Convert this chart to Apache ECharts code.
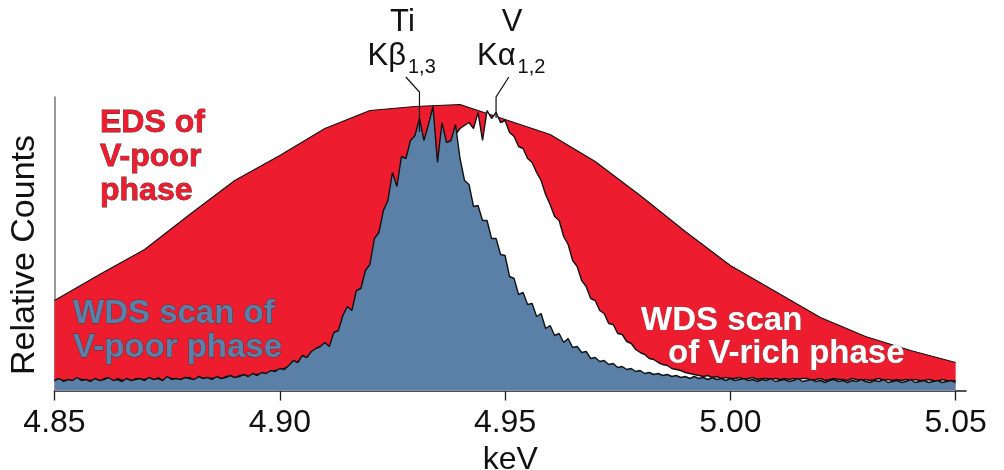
<!DOCTYPE html>
<html>
<head>
<meta charset="utf-8">
<script src="https://cdn.jsdelivr.net/npm/echarts@6/dist/echarts.min.js"></script>
<style>
  html, body { margin: 0; padding: 0; background: #ffffff; }
  #chart { width: 1004px; height: 470px; }
</style>
</head>
<body>
<div id="chart"></div>
<script>
// Energy axis tick labels (keV)
const tickValues = [4.85, 4.90, 4.95, 5.00, 5.05];

// EDS spectrum of the V-poor phase, one channel every 10 eV from 4.85 keV
const edsStart = 4.85;
const edsStep = 0.01;
const edsVPoor = [90, 116, 141, 176, 210, 235, 262, 280, 284, 286, 271,
                  256, 229, 195, 159, 125, 99, 73, 54, 40, 28];

// WDS scans, one step every 1 eV from 4.85 keV
const wdsStart = 4.85;
const wdsStep = 0.001;
const wdsVRich = [
  9, 11, 10, 10, 9, 12, 11, 10, 10, 11,
  9, 12, 12, 9, 12, 10, 11, 9, 12, 11,
  11, 12, 10, 13, 10, 13, 12, 11, 10, 12,
  13, 10, 13, 12, 12, 12, 13, 11, 14, 14,
  12, 15, 15, 13, 16, 16, 17, 16, 19, 20,
  20, 22, 24, 27, 29, 30, 30, 35, 38, 40,
  44, 44, 50, 56, 64, 76, 78, 90, 98, 110,
  120, 138, 150, 166, 180, 198, 200, 215, 222, 232,
  238, 248, 240, 248, 252, 222, 232, 240, 246, 256,
  262, 265, 268, 262, 278, 250, 280, 272, 278, 268,
  270, 258, 254, 244, 242, 232, 228, 218, 210, 196,
  186, 174, 170, 154, 146, 130, 124, 110, 104, 92,
  90, 80, 77, 67, 66, 57, 56, 49, 47, 41,
  38, 36, 32, 31, 28, 26, 25, 22, 21, 20,
  18, 17, 16, 15, 14, 15, 13, 14, 12, 13,
  12, 12, 13, 11, 12, 13, 11, 12, 12, 11,
  12, 11, 12, 11, 12, 11, 12, 12, 10, 11,
  12, 10, 11, 12, 11, 11, 10, 12, 11, 10,
  11, 10, 11, 12, 10, 11, 10, 11, 10, 11,
  10, 11, 10, 10, 11, 10, 9, 11, 10, 9, 10
];
const wdsVPoor = [
  10, 12, 9, 11, 10, 13, 10, 11, 9, 12,
  10, 11, 13, 10, 11, 9, 12, 10, 11, 12,
  10, 13, 11, 12, 10, 14, 11, 12, 11, 13,
  12, 11, 14, 12, 13, 11, 14, 12, 13, 15,
  13, 14, 16, 14, 17, 15, 18, 17, 20, 19,
  22, 21, 25, 30, 28, 35, 33, 39, 42, 44,
  48, 44, 58, 60, 75, 84, 80, 100, 102, 120,
  126, 152, 158, 180, 190, 218, 204, 234, 232, 250,
  255, 272, 250, 266, 284, 228, 268, 248, 250, 266,
  232, 210, 206, 184, 185, 170, 170, 152, 152, 136,
  135, 114, 112, 96, 98, 86, 87, 74, 77, 62,
  65, 55, 57, 48, 52, 43, 44, 38, 39, 32,
  33, 29, 30, 26, 27, 23, 24, 21, 22, 19,
  20, 17, 18, 16, 17, 15, 16, 14, 15, 13,
  14, 12, 14, 12, 13, 11, 13, 11, 12, 10,
  12, 10, 11, 12, 10, 11, 9, 11, 10, 12,
  9, 10, 11, 9, 10, 12, 9, 10, 11, 9,
  10, 8, 10, 11, 9, 10, 8, 10, 9, 11,
  9, 8, 10, 9, 11, 8, 9, 10, 8, 9,
  11, 8, 9, 10, 8, 9, 10, 8, 9, 10, 8
];

// Emission line markers
const markerElements = ['Ti', 'V'];
const markerLines = ['Kβ', 'Kα'];
const markerSubs = ['1,3', '1,2'];
const markerEnergies = [4.931, 4.948];

const RED = '#ed1c2e';
const BLUE = '#5b80a8';
const FONT = '"Liberation Sans", Arial, sans-serif';

function toPairs(start, step, values) {
  return values.map((v, i) => [+(start + i * step).toFixed(4), v]);
}

function spectrum(name, data, fill, z, width) {
  return {
    name: name,
    type: 'line',
    data: data,
    symbol: 'none',
    smooth: false,
    z: z,
    animation: false,
    lineStyle: { color: '#111111', width: width },
    areaStyle: { color: fill, opacity: 1 }
  };
}

const chart = echarts.init(document.getElementById('chart'), null, { renderer: 'canvas' });

const option = {
  backgroundColor: '#ffffff',
  animation: false,
  grid: { left: 54.5, right: 38, top: 97, bottom: 79.5, outerBoundsMode: 'none', containLabel: false },
  xAxis: {
    type: 'value',
    min: 4.85,
    max: 5.0523,
    axisLine: { show: true, lineStyle: { color: '#1a1a1a', width: 1.5 } },
    axisTick: { show: true, length: 10, lineStyle: { color: '#1a1a1a', width: 1.3 }, customValues: tickValues },
    axisLabel: {
      customValues: tickValues,
      formatter: v => v.toFixed(2),
      color: '#111111',
      fontFamily: FONT,
      fontSize: 32,
      margin: 17
    },
    splitLine: { show: false },
    name: 'keV',
    nameLocation: 'middle',
    nameGap: 48,
    nameTextStyle: { color: '#111111', fontFamily: FONT, fontSize: 32 }
  },
  yAxis: {
    type: 'value',
    min: 0,
    max: 293.5,
    axisLine: { show: true, lineStyle: { color: '#777777', width: 1.5 } },
    axisTick: { show: false },
    axisLabel: { show: false },
    splitLine: { show: false }
  },
  series: [
    spectrum('EDS of V-poor phase', toPairs(edsStart, edsStep, edsVPoor), RED, 2, 1.1),
    spectrum('WDS scan of V-rich phase', toPairs(wdsStart, wdsStep, wdsVRich), '#ffffff', 3, 1.4),
    spectrum('WDS scan of V-poor phase', toPairs(wdsStart, wdsStep, wdsVPoor), BLUE, 4, 1.4)
  ]
};

chart.setOption(option);

// Leader shapes and label offsets for the line markers
const markerLayout = [
  { dx: -17, bendY: 92, bottomY: 132 },
  { dx: 16, bendY: 97, bottomY: 118 }
];

const graphics = [];
markerEnergies.forEach((e, k) => {
  const x = chart.convertToPixel({ xAxisIndex: 0 }, e);
  const lay = markerLayout[k];
  const cx = x + lay.dx;
  graphics.push({
    type: 'polyline', z: 10,
    shape: { points: [[x + lay.dx * 0.8, 77], [x, lay.bendY], [x, lay.bottomY]] },
    style: { stroke: '#111111', lineWidth: 1.2, fill: null }
  });
  graphics.push({
    type: 'text', z: 10, x: cx, y: 22,
    style: { text: markerElements[k], font: '31px ' + FONT, fill: '#111111', textAlign: 'center', textVerticalAlign: 'middle' }
  });
  graphics.push({
    type: 'text', z: 10, x: cx + 3.5, y: 56,
    style: { text: markerLines[k], font: '31px ' + FONT, fill: '#111111', textAlign: 'right', textVerticalAlign: 'middle' }
  });
  graphics.push({
    type: 'text', z: 10, x: cx + 5.5, y: 67,
    style: { text: markerSubs[k], font: '20px ' + FONT, fill: '#111111', textAlign: 'left', textVerticalAlign: 'middle' }
  });
});

// Series captions
graphics.push({
  type: 'text', z: 10, x: 100, y: 106.5,
  style: { text: 'EDS of\nV-poor\nphase', font: 'bold 32px ' + FONT, lineHeight: 34,
           fill: RED, stroke: '#4a3030', lineWidth: 0.8, textAlign: 'left', textVerticalAlign: 'top' }
});
graphics.push({
  type: 'text', z: 10, x: 73, y: 296.5,
  style: { text: 'WDS scan of\nV-poor phase', font: 'bold 33px ' + FONT, lineHeight: 34.5,
           fill: BLUE, stroke: '#323c4a', lineWidth: 0.8, textAlign: 'left', textVerticalAlign: 'top' }
});
graphics.push({
  type: 'text', z: 10, x: 641, y: 321,
  style: { text: 'WDS scan', font: 'bold 33px ' + FONT,
           fill: '#ffffff', stroke: '#666666', lineWidth: 0.7, textAlign: 'left', textVerticalAlign: 'middle' }
});
graphics.push({
  type: 'text', z: 10, x: 668, y: 354,
  style: { text: 'of V-rich phase', font: 'bold 33px ' + FONT,
           fill: '#ffffff', stroke: '#666666', lineWidth: 0.7, textAlign: 'left', textVerticalAlign: 'middle' }
});
// Y axis title
graphics.push({
  type: 'text', z: 10, x: 25, y: 255, rotation: Math.PI / 2,
  style: { text: 'Relative Counts', font: '34px ' + FONT, fill: '#111111', textAlign: 'center', textVerticalAlign: 'middle' }
});

chart.setOption({ graphic: graphics });
</script>
</body>
</html>
